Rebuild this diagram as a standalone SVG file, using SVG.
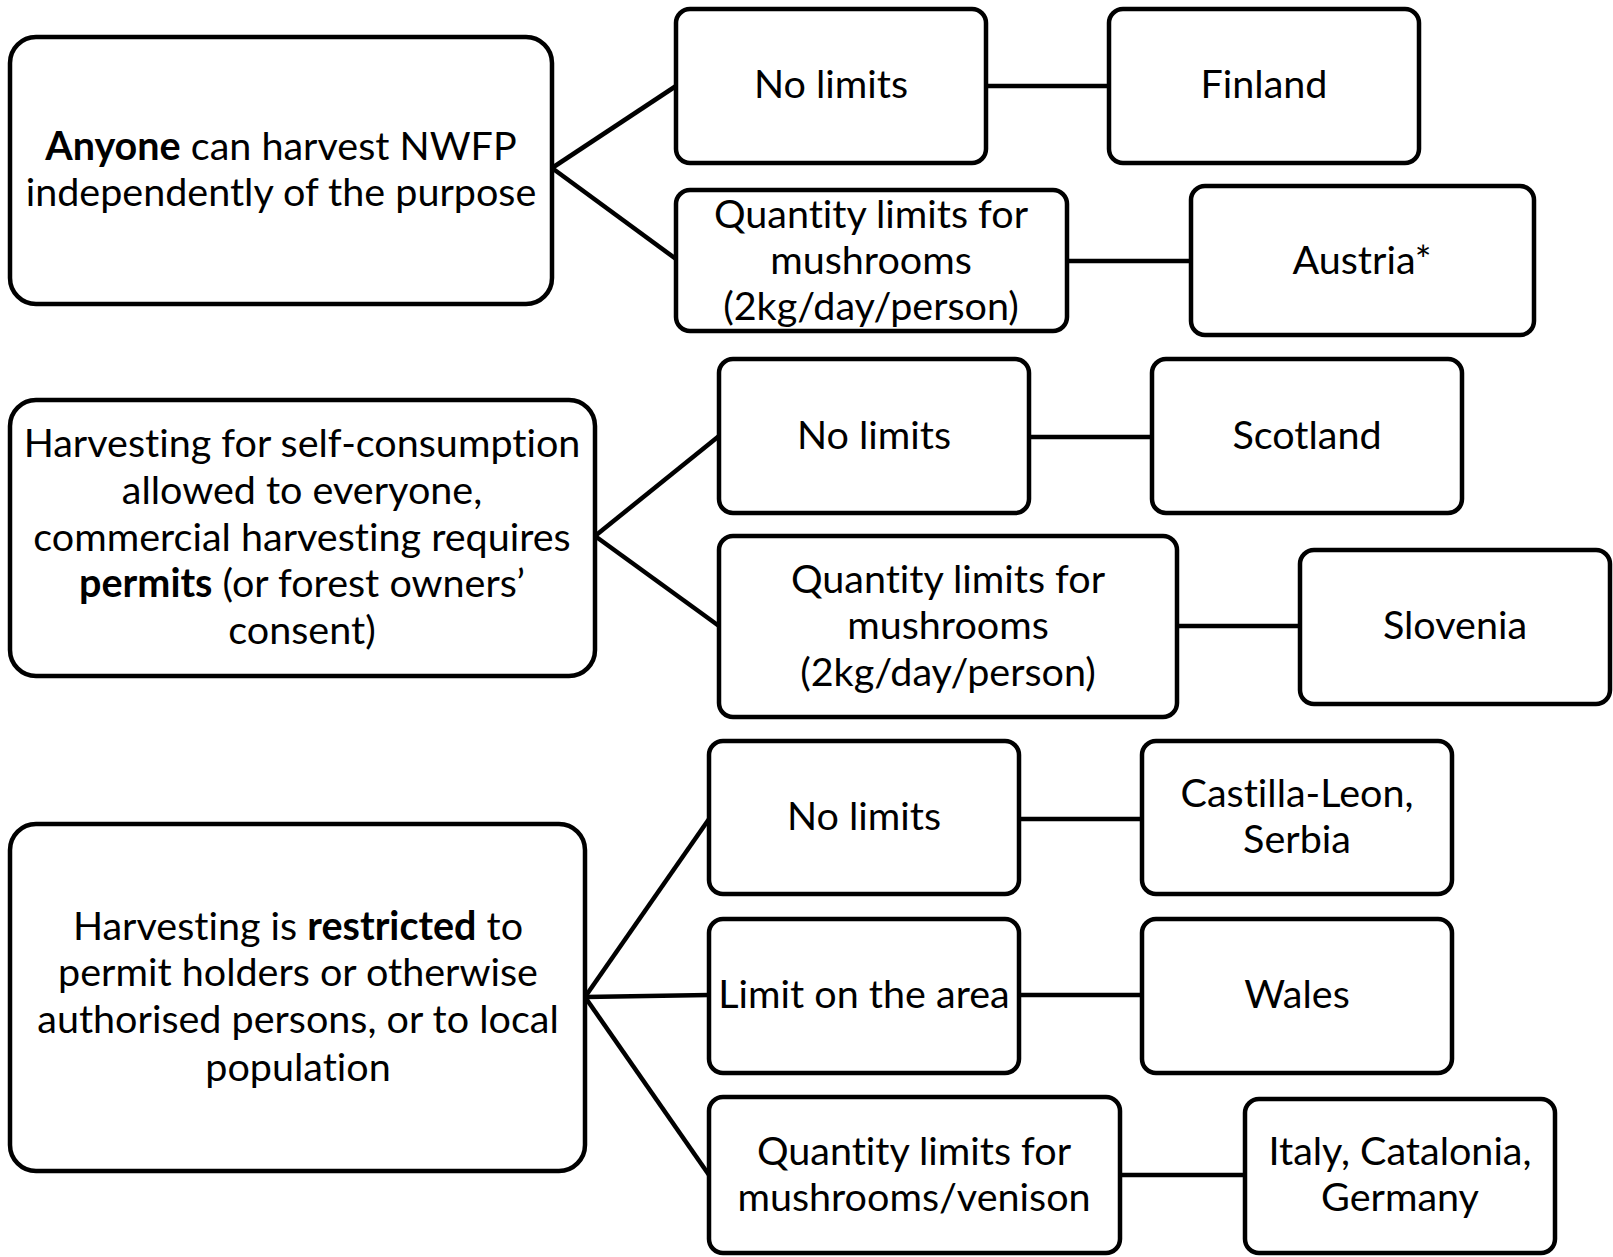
<svg xmlns="http://www.w3.org/2000/svg" width="1613" height="1257" viewBox="0 0 1613 1257">
<style>
.box{fill:#fff;stroke:#000;stroke-width:4.5}
.t{font-family:Lato,"Liberation Sans",sans-serif;font-size:39.5px;text-anchor:middle;fill:#000;font-variant-ligatures:none;font-feature-settings:"liga" 0,"dlig" 0}
.b{font-weight:bold}
.c{stroke:#000;stroke-width:4.5;fill:none}
</style>
<rect width="1613" height="1257" fill="#fff"/>
<g id="connectors">
<line class="c" x1="552" y1="168" x2="676" y2="86"/>
<line class="c" x1="552" y1="168" x2="676" y2="259"/>
<line class="c" x1="986" y1="86" x2="1109" y2="86"/>
<line class="c" x1="1067" y1="261" x2="1191" y2="261"/>
<line class="c" x1="595" y1="536" x2="719" y2="436"/>
<line class="c" x1="595" y1="536" x2="719" y2="626"/>
<line class="c" x1="1029" y1="437" x2="1152" y2="437"/>
<line class="c" x1="1177" y1="626" x2="1300" y2="626"/>
<line class="c" x1="585" y1="997" x2="709" y2="819"/>
<line class="c" x1="585" y1="997" x2="709" y2="995"/>
<line class="c" x1="585" y1="997" x2="709" y2="1175"/>
<line class="c" x1="1019" y1="819" x2="1142" y2="819"/>
<line class="c" x1="1019" y1="995" x2="1142" y2="995"/>
<line class="c" x1="1120" y1="1175" x2="1245" y2="1175"/>
</g>
<g id="anyone">
<rect class="box" x="10" y="37" width="542" height="267" rx="26"/>
<text class="t" x="281" y="160"><tspan class="b">Anyone</tspan> can harvest NWFP</text>
<text class="t" x="281" y="206">independently of the purpose</text>
</g>
<g id="nolimits1">
<rect class="box" x="676" y="9" width="310" height="154" rx="14"/>
<text class="t" x="831" y="98">No limits</text>
</g>
<g id="finland">
<rect class="box" x="1109" y="9" width="310" height="154" rx="14"/>
<text class="t" x="1264" y="98">Finland</text>
</g>
<g id="quantity1">
<rect class="box" x="676" y="190" width="391" height="141" rx="14"/>
<text class="t" x="871" y="228">Quantity limits for</text>
<text class="t" x="871" y="274">mushrooms</text>
<text class="t" x="871" y="320">(2kg/day/person)</text>
</g>
<g id="austria">
<rect class="box" x="1191" y="186" width="343" height="149" rx="14"/>
<text class="t" x="1362" y="274">Austria*</text>
</g>
<g id="selfconsumption">
<rect class="box" x="10" y="400" width="585" height="276" rx="26"/>
<text class="t" x="302" y="457">Harvesting for self-consumption</text>
<text class="t" x="302" y="504">allowed to everyone,</text>
<text class="t" x="302" y="551">commercial harvesting requires</text>
<text class="t" x="302" y="597"><tspan class="b">permits</tspan> (or forest owners’</text>
<text class="t" x="302" y="644">consent)</text>
</g>
<g id="nolimits2">
<rect class="box" x="719" y="359" width="310" height="154" rx="14"/>
<text class="t" x="874" y="449">No limits</text>
</g>
<g id="scotland">
<rect class="box" x="1152" y="359" width="310" height="154" rx="14"/>
<text class="t" x="1307" y="449">Scotland</text>
</g>
<g id="quantity2">
<rect class="box" x="719" y="536" width="458" height="181" rx="14"/>
<text class="t" x="948" y="593">Quantity limits for</text>
<text class="t" x="948" y="639">mushrooms</text>
<text class="t" x="948" y="686">(2kg/day/person)</text>
</g>
<g id="slovenia">
<rect class="box" x="1300" y="550" width="310" height="154" rx="14"/>
<text class="t" x="1455" y="639">Slovenia</text>
</g>
<g id="restricted">
<rect class="box" x="10" y="824" width="575" height="347" rx="26"/>
<text class="t" x="298" y="940">Harvesting is <tspan class="b">restricted</tspan> to</text>
<text class="t" x="298" y="986">permit holders or otherwise</text>
<text class="t" x="298" y="1033">authorised persons, or to local</text>
<text class="t" x="298" y="1081">population</text>
</g>
<g id="nolimits3">
<rect class="box" x="709" y="741" width="310" height="153" rx="14"/>
<text class="t" x="864" y="830">No limits</text>
</g>
<g id="castilla">
<rect class="box" x="1142" y="741" width="310" height="153" rx="14"/>
<text class="t" x="1297" y="807">Castilla-Leon,</text>
<text class="t" x="1297" y="853">Serbia</text>
</g>
<g id="area">
<rect class="box" x="709" y="919" width="310" height="154" rx="14"/>
<text class="t" x="864" y="1008">Limit on the area</text>
</g>
<g id="wales">
<rect class="box" x="1142" y="919" width="310" height="154" rx="14"/>
<text class="t" x="1297" y="1008">Wales</text>
</g>
<g id="quantity3">
<rect class="box" x="709" y="1097" width="411" height="156" rx="14"/>
<text class="t" x="914" y="1165">Quantity limits for</text>
<text class="t" x="914" y="1211">mushrooms/venison</text>
</g>
<g id="italy">
<rect class="box" x="1245" y="1099" width="310" height="154" rx="14"/>
<text class="t" x="1400" y="1165">Italy, Catalonia,</text>
<text class="t" x="1400" y="1211">Germany</text>
</g>
</svg>
